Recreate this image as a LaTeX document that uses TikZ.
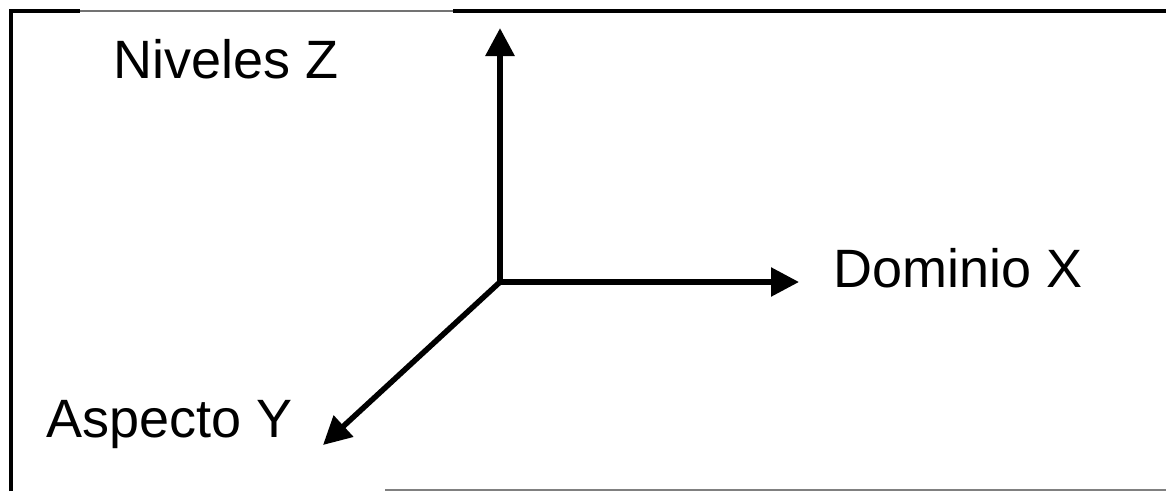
\documentclass[tikz,border=0pt]{standalone}
\usepackage{fontspec}
\setmainfont{Liberation Sans}
\usetikzlibrary{arrows.meta}
\begin{document}
\begin{tikzpicture}[x=1pt,y=-1pt,
  axis/.style={line width=5.5pt,-{Triangle[length=28pt,width=28pt]}},
  lbl/.style={inner sep=0pt,anchor=base west,font=\fontsize{54}{60}\selectfont},
  frameblack/.style={line width=4pt,black},
  framegray/.style={line width=2.5pt,black!55}]
\useasboundingbox (0,0) rectangle (1166,491);
% frame
\draw[frameblack] (10.5,491) -- (10.5,11) -- (80,11);
\draw[framegray] (80,11) -- (453,11);
\draw[frameblack] (453,11) -- (1166,11);
\draw[line width=2pt,black!50] (385,490) -- (1166,490);
% axes
\coordinate (O) at (500,282);
\coordinate (ztip) at (500,28);
\coordinate (xtip) at (799,282);
\coordinate (ytip) at (323,445);
\draw[axis,line width=6pt] (500,285) -- (ztip);
\draw[axis] (O) -- (xtip);
\draw[axis] (O) -- (ytip);
% labels
\node[lbl] (nz) at (113,78) {Niveles Z};
\node[lbl] (dx) at (833,287) {Dominio X};
\node[lbl] (ay) at (46,437) {Aspecto Y};
\end{tikzpicture}
\end{document}
